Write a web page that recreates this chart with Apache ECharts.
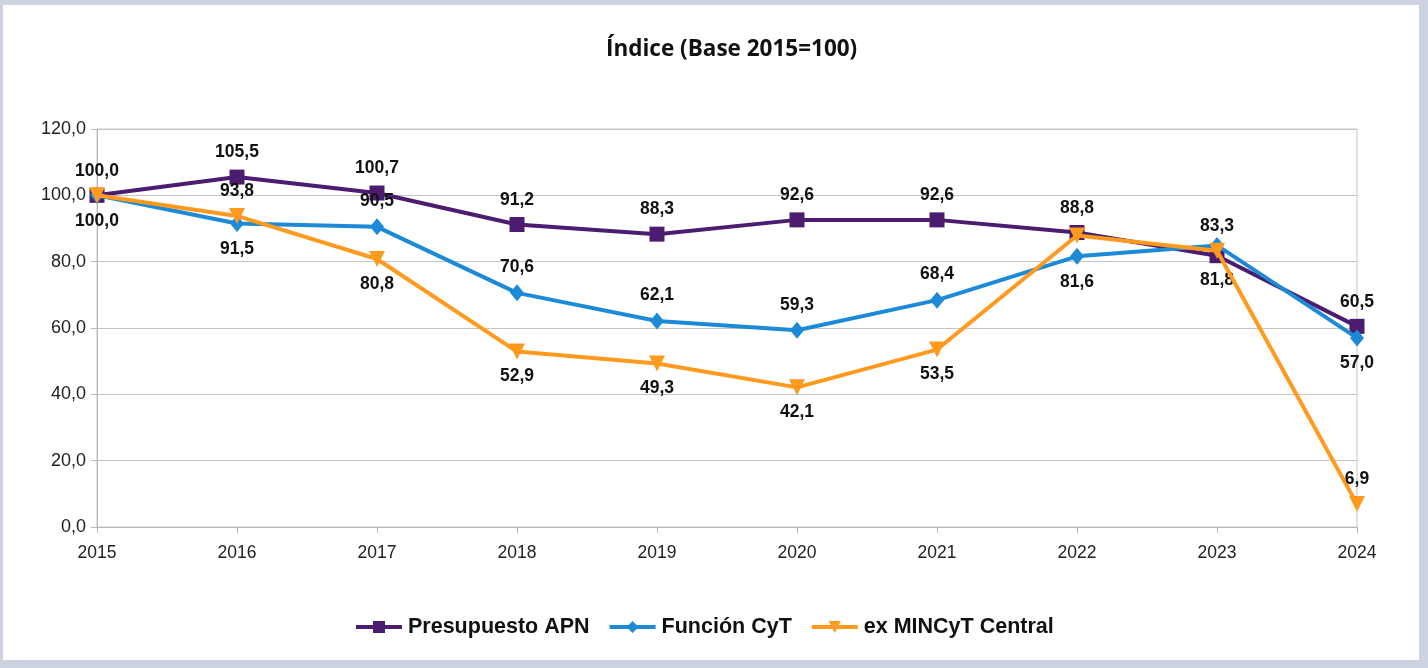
<!DOCTYPE html>
<html><head><meta charset="utf-8">
<script src="https://cdn.jsdelivr.net/npm/echarts@6/dist/echarts.min.js"></script>
<style>
html,body{margin:0;padding:0;background:#cdd2e0;width:1428px;height:668px;overflow:hidden}
#frame{position:absolute;left:3px;top:5px;width:1416px;height:655px;background:#fff}
#c{width:1416px;height:655px}
</style></head><body>
<div id="frame"><div id="c"></div></div>
<script>
const years = ['2015','2016','2017','2018','2019','2020','2021','2022','2023','2024'];
const presupuestoAPN = [100.0, 105.5, 100.7, 91.2, 88.3, 92.6, 92.6, 88.8, 81.8, 60.5];
const funcionCyT = [100.0, 91.5, 90.5, 70.6, 62.1, 59.3, 68.4, 81.6, 84.9, 57.0];
const exMINCyT = [100.0, 93.8, 80.8, 52.9, 49.3, 42.1, 53.5, 87.9, 83.3, 6.9];
const yTicks = [0, 20, 40, 60, 80, 100, 120];

// label placement per point: 't' = above, 'b' = below, '' = hidden
const apnLab = ['t','t','t','t','t','t','t','t','b','t'];
const cytLab = ['b','b','t','t','t','t','t','b','','b'];
const minLab = ['','t','b','b','b','b','b','','t','t'];

const fmt = v => v.toFixed(1).replace('.', ',');
function withLabels(vals, pos){
  return vals.map((v,i)=>({
    value: v,
    label: pos[i] ? {show:true, position: pos[i]==='t'?'top':'bottom'} : {show:false}
  }));
}
const labelStyle = {fontFamily:'Liberation Sans', fontWeight:'bold', fontSize:17.5, color:'#111', distance:8,
  formatter: p => fmt(p.value)};

const colors = ['#4b1c6f', '#1c8ad6', '#ff9a1f'];
const chart = echarts.init(document.getElementById('c'), null, {renderer:'canvas'});
chart.setOption({
  animation:false,
  color: colors,
  title: {text:'Índice (Base 2015=100)', left:598, top:28,
    textStyle:{fontFamily:'Open Sans', fontWeight:'bold', fontSize:22.5, color:'#111'}},
  grid: {left:94, top:124, width:1260, height:398, show:true, borderColor:'#c4c4c4', borderWidth:1},
  legend: {top:606, left:346, itemWidth:46, itemHeight:15, itemGap:18,
    lineStyle:{width:4},
    textStyle:{fontFamily:'Liberation Sans', fontWeight:'bold', fontSize:21.5, color:'#111', padding:[0,0,0,1]},
    data:['Presupuesto APN','Función CyT','ex MINCyT Central']},
  xAxis: {type:'category', data: years, boundaryGap:false,
    axisLine:{lineStyle:{color:'#b8b8b8'}}, axisTick:{show:true, length:6, lineStyle:{color:'#b8b8b8'}},
    axisLabel:{fontFamily:'Liberation Sans', fontSize:17.5, color:'#222', margin:17},
    splitLine:{show:false}},
  yAxis: {type:'value', min:yTicks[0], max:yTicks[yTicks.length-1], interval:20,
    axisLine:{show:true, lineStyle:{color:'#b8b8b8'}}, axisTick:{show:true, length:6, lineStyle:{color:'#b8b8b8'}},
    axisLabel:{fontFamily:'Liberation Sans', fontSize:18, color:'#222', margin:11, formatter: v=>fmt(v)},
    splitLine:{lineStyle:{color:'#c4c4c4'}}},
  series: [
    {name:'Presupuesto APN', type:'line', data: withLabels(presupuestoAPN, apnLab), symbol:'rect', symbolSize:15,
      lineStyle:{width:4}, label:labelStyle, z:3},
    {name:'Función CyT', type:'line', data: withLabels(funcionCyT, cytLab), symbol:'diamond', symbolSize:[14,17],
      lineStyle:{width:4}, label:labelStyle, z:4},
    {name:'ex MINCyT Central', type:'line', data: withLabels(exMINCyT, minLab), symbol:'triangle', symbolRotate:180, symbolSize:16,
      lineStyle:{width:4}, label:labelStyle, z:5}
  ]
});
</script></body></html>
